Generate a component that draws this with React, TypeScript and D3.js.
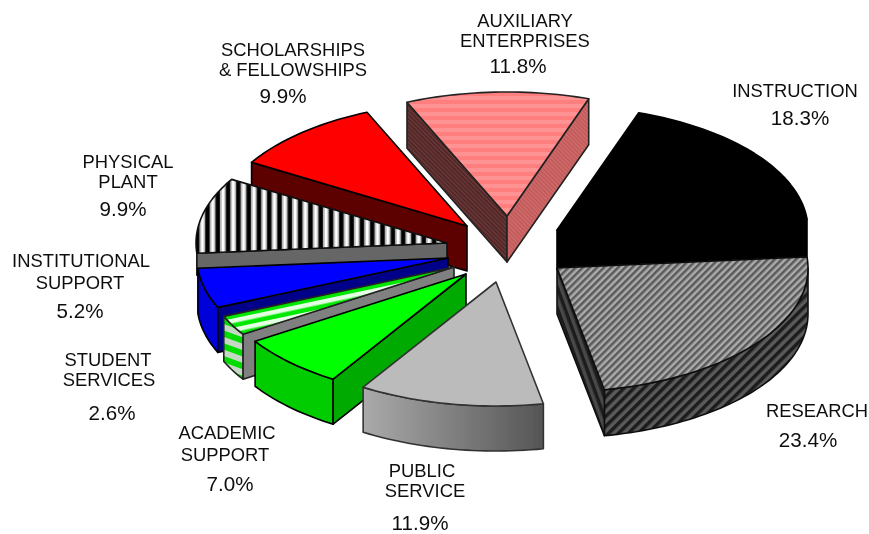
import React from "react";
import * as d3 from "d3";

const categories = ["INSTRUCTION", "RESEARCH", "PUBLIC SERVICE", "ACADEMIC SUPPORT", "STUDENT SERVICES", "INSTITUTIONAL SUPPORT", "PHYSICAL PLANT", "SCHOLARSHIPS & FELLOWSHIPS", "AUXILIARY ENTERPRISES"];
const shares = [18.3, 23.4, 11.9, 7.0, 2.6, 5.2, 9.9, 9.9, 11.8];
const labelLines = [["INSTRUCTION"], ["RESEARCH"], ["PUBLIC", "SERVICE"], ["ACADEMIC", "SUPPORT"], ["STUDENT", "SERVICES"], ["INSTITUTIONAL", "SUPPORT"], ["PHYSICAL", "PLANT"], ["SCHOLARSHIPS", "& FELLOWSHIPS"], ["AUXILIARY", "ENTERPRISES"]];

// explode offsets of each slice from the pie centre
const explodeX = [57, 57, -4, -34, -46, -52, -53, -33, 7];
const explodeY = [-20, 18, 32, 24, 17, 8, -7, -24, -34];
// wall height of each slice
const depths = [40, 46, 45, 45, 45, 45, 22, 45, 46];
// painter's order, back to front
const drawOrder = [0, 1, 8, 7, 6, 5, 4, 3, 2];

const topFill = ["#000", "url(#resTop)", "#bbbbbb", "#00ff00", "url(#stuTop)", "#0000ff", "url(#phyTop)", "#ff0000", "url(#auxTop)"];
const arcFill = ["#000", "url(#resArc)", "url(#pubArc)", "#00cc00", "url(#stuArc)", "#0000d8", "#666", "#600000", "#5a2c2c"];
const startFill = ["#000", "#000", "#888", "#00aa00", "#808080", "#000088", "#666666", "#5c0000", "url(#auxLeft)"];
const endFill = ["#000", "url(#resLeft)", "#888", "#00aa00", "#888", "#000088", "#666666", "#5c0000", "url(#auxRight)"];
const strokeCol = ["#000", "#111", "#333", "#000", "#222", "#000", "#111", "#000", "#222"];

// label anchor tables: [x, baseline] for the lines, then the percentage
const labelX = [[795], [817], [422, 425], [227, 225], [108, 109], [81, 80], [128, 128], [293, 293], [525, 525]];
const labelY = [[97], [417], [477, 497], [439, 461], [366, 386], [267, 289], [168, 188], [56, 76], [27, 47]];
const pctX = [800, 808, 420, 230, 112, 80, 123, 283, 518];
const pctY = [125, 447, 530, 491, 420, 318, 216, 103, 73];

const CX = 500, CY = 250, RX = 251, RY = 124;
const rad = Math.PI / 180;

const px = d3.scaleLinear().domain([-1, 1]).range([-RX, RX]);
const py = d3.scaleLinear().domain([-1, 1]).range([-RY, RY]);
const arcs = d3.pie<number>().sort(null).startAngle(19 * rad).endAngle(379 * rad)(shares);

type P = [number, number];
const line = d3.line();
const rim = (i: number, a: number, dz = 0): P => [
  CX + explodeX[i] + px(Math.sin(a)),
  CY + explodeY[i] + py(-Math.cos(a)) + dz,
];
const apex = (i: number, dz = 0): P => [CX + explodeX[i], CY + explodeY[i] + dz];
const sweep = (a0: number, a1: number) => {
  const n = Math.max(2, Math.ceil(Math.abs(a1 - a0) / (1.5 * rad)));
  return d3.range(n + 1).map((k) => a0 + ((a1 - a0) * k) / n);
};

function Slice({ i }: { i: number }) {
  const a0 = arcs[i].startAngle, a1 = arcs[i].endAngle;
  const depth = depths[i];
  const topD = line([apex(i), ...sweep(a0, a1).map((a) => rim(i, a))])! + "Z";
  const faces: React.ReactNode[] = [];
  const sw = 1.6;
  // outer wall: only the front half of the rim shows
  const lo = Math.max(a0, 90 * rad), hi = Math.min(a1, 270 * rad);
  if (hi - lo > 6 * rad) {
    const s = sweep(lo, hi);
    const d = line([...s.map((a) => rim(i, a)), ...s.slice().reverse().map((a) => rim(i, a, depth))])! + "Z";
    faces.push(<path key="arc" d={d} fill={arcFill[i]} stroke={strokeCol[i]} strokeWidth={sw} strokeLinejoin="round" />);
  }
  // radial cut faces, where they turn toward the viewer
  if (Math.sin(a0) < 0) {
    const d = line([apex(i), rim(i, a0), rim(i, a0, depth), apex(i, depth)])! + "Z";
    faces.push(<path key="start" d={d} fill={startFill[i]} stroke={strokeCol[i]} strokeWidth={sw} strokeLinejoin="round" />);
  }
  if (Math.sin(a1) > 0) {
    const d = line([apex(i), rim(i, a1), rim(i, a1, depth), apex(i, depth)])! + "Z";
    faces.push(<path key="end" d={d} fill={endFill[i]} stroke={strokeCol[i]} strokeWidth={sw} strokeLinejoin="round" />);
  }
  return (
    <g>
      {faces}
      <path d={topD} fill={topFill[i]} stroke={strokeCol[i]} strokeWidth={sw} strokeLinejoin="round" />
    </g>
  );
}

function Stripes({ id, size, angle = 0, a, b, split = 0.5 }: { id: string; size: number; angle?: number; a: string; b: string; split?: number }) {
  return (
    <pattern id={id} patternUnits="userSpaceOnUse" width={size} height={size} patternTransform={`rotate(${angle})`}>
      <rect width={size} height={size} fill={a} />
      <rect width={size} height={size * split} fill={b} />
    </pattern>
  );
}

export default function App() {
  return (
    <svg width={869} height={534} viewBox="0 0 869 534" style={{ position: "absolute", left: 0, top: 0, display: "block", background: "#fff" }}>
      <defs>
        <filter id="soft" x="-5%" y="-5%" width="110%" height="110%">
          <feGaussianBlur stdDeviation="0.75" />
        </filter>
        <filter id="softText" x="-5%" y="-5%" width="110%" height="110%">
          <feGaussianBlur stdDeviation="0.4" />
        </filter>
        <Stripes id="auxTop" size={8} a="#ff7f7f" b="#ff9292" />
        <Stripes id="auxLeft" size={3} angle={45} a="#4e2424" b="#6a3a3a" />
        <Stripes id="auxRight" size={3} angle={45} a="#c05858" b="#d06c6c" />
        <Stripes id="resTop" size={5} angle={-45} a="#ababab" b="#5a5a5a" />
        <Stripes id="resArc" size={7} angle={-45} a="#5a5a5a" b="#1c1c1c" />
        <Stripes id="resLeft" size={7} angle={70} a="#484848" b="#1c1c1c" />
        <Stripes id="stuTop" size={9} angle={-12} a="#00e800" b="#e4ffe4" />
        <Stripes id="stuArc" size={12} angle={20} a="#00dc00" b="#c4d8c4" />
        <pattern id="phyTop" patternUnits="userSpaceOnUse" width={10.3} height={10}>
          <rect width={10.3} height={10} fill="#000" />
          <rect x={3.6} width={6} height={10} fill="#b4b4b4" />
          <rect x={5.4} width={2.6} height={10} fill="#fff" />
        </pattern>
        <linearGradient id="pubArc" x1="0" x2="1" y1="0" y2="0">
          <stop offset="0" stopColor="#aaaaaa" />
          <stop offset="1" stopColor="#555555" />
        </linearGradient>
      </defs>
      <g filter="url(#soft)">
        {drawOrder.map((i) => (
          <Slice key={categories[i]} i={i} />
        ))}
      </g>
      <g filter="url(#softText)" fontFamily="'Liberation Sans', Arial, sans-serif" fill="#111" textAnchor="middle">
        {categories.map((c, i) => (
          <g key={c}>
            {labelLines[i].map((t, k) => (
              <text key={t} x={labelX[i][k]} y={labelY[i][k]} fontSize={18.4}>{t}</text>
            ))}
            <text x={pctX[i]} y={pctY[i]} fontSize={20.6}>{shares[i].toFixed(1)}%</text>
          </g>
        ))}
      </g>
    </svg>
  );
}
